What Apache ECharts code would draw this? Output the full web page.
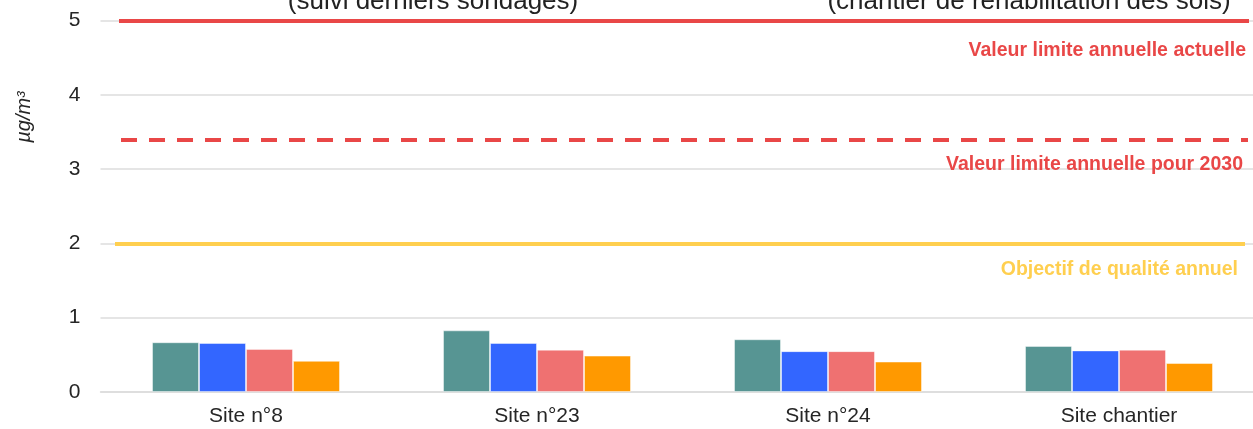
<!DOCTYPE html>
<html>
<head>
<meta charset="utf-8">
<script src="https://cdn.jsdelivr.net/npm/echarts@6/dist/echarts.min.js"></script>
<style>
  html, body { margin: 0; padding: 0; background: #fff; }
  #chart { width: 1253px; height: 429px; }
</style>
</head>
<body>
<div id="chart"></div>
<script>
// data
const categories = ['Site n°8', 'Site n°23', 'Site n°24', 'Site chantier']
const serie1 = [0.67, 0.83, 0.71, 0.62]
const serie2 = [0.66, 0.66, 0.55, 0.56]
const serie3 = [0.58, 0.57, 0.55, 0.57]
const serie4 = [0.42, 0.49, 0.41, 0.39]
const yTicks = [0, 1, 2, 3, 4, 5]
const limitValues = [5, 3.4, 2]
const limitLabels = ['Valeur limite annuelle actuelle', 'Valeur limite annuelle pour 2030', 'Objectif de qualité annuel']
const headerTexts = ['(suivi derniers sondages)', '(chantier de réhabilitation des sols)']

const red = '#e94747'
const yellow = '#ffcf4f'
const font = '"Liberation Sans", Arial, sans-serif'

const chart = echarts.init(document.getElementById('chart'))

function bar(name, values, color) {
    return {
        name: name,
        type: 'bar',
        data: values,
        barWidth: 47,
        barGap: 0,
        itemStyle: {
            color: color,
            borderColor: 'rgba(255,255,255,0.45)',
            borderWidth: 1
        }
    }
}

// markLine pairs: [x start, x end] in px, label gap [x, y]
const limitStyles = [
    {from: 119, to: 1249, color: red, type: 'solid', gap: [3, 20]},
    {from: 121, to: 1248, color: red, type: [16, 12], gap: [5, 15]},
    {from: 115, to: 1245, color: yellow, type: 'solid', gap: [7, 16]}
]

const markData = limitValues.map((v, i) => {
    const s = limitStyles[i]
    return [
        {
            x: s.from,
            yAxis: v,
            lineStyle: {color: s.color, width: 4, type: s.type, cap: 'butt'},
            label: {
                show: true,
                position: 'insideEndBottom',
                formatter: limitLabels[i],
                color: s.color,
                fontFamily: font,
                fontWeight: 'bold',
                fontSize: 19.5,
                distance: s.gap
            }
        },
        {x: s.to, yAxis: v}
    ]
})

const series = [
    bar('serie1', serie1, '#579593'),
    bar('serie2', serie2, '#3366ff'),
    bar('serie3', serie3, '#ef7171'),
    bar('serie4', serie4, '#ff9900')
]
series[0].markLine = {
    silent: true,
    symbol: ['none', 'none'],
    animation: false,
    data: markData
}

const options = {
    animation: false,
    grid: {
        left: 100.5,
        width: 1164,
        top: 20.5,
        bottom: 37,
        outerBoundsMode: 'none'
    },
    xAxis: {
        type: 'category',
        data: categories,
        axisLine: {lineStyle: {color: '#dcdcdc', width: 1.5}},
        axisTick: {show: false},
        axisLabel: {
            color: '#262626',
            fontFamily: font,
            fontSize: 21,
            margin: 14
        }
    },
    yAxis: {
        type: 'value',
        min: yTicks[0],
        max: yTicks[yTicks.length - 1],
        interval: 1,
        axisLine: {show: false},
        axisTick: {show: false},
        splitLine: {lineStyle: {color: '#dcdcdc', width: 1.5}},
        axisLabel: {
            color: '#262626',
            fontFamily: font,
            fontSize: 21,
            margin: 20
        }
    },
    graphic: [
        {
            type: 'text',
            x: 433,
            y: 2,
            style: {
                text: headerTexts[0],
                font: '26px ' + font,
                fill: '#222',
                align: 'center',
                verticalAlign: 'middle'
            }
        },
        {
            type: 'text',
            x: 1029,
            y: 2,
            style: {
                text: headerTexts[1],
                font: '26px ' + font,
                fill: '#222',
                align: 'center',
                verticalAlign: 'middle'
            }
        },
        {
            type: 'text',
            x: 24,
            y: 117,
            rotation: Math.PI / 2,
            style: {
                text: 'µg/m³',
                font: 'italic 20px ' + font,
                fill: '#262626',
                align: 'center',
                verticalAlign: 'middle'
            }
        }
    ],
    series: series
}

chart.setOption(options)
window.addEventListener('resize', () => chart.resize())
</script>
</body>
</html>
